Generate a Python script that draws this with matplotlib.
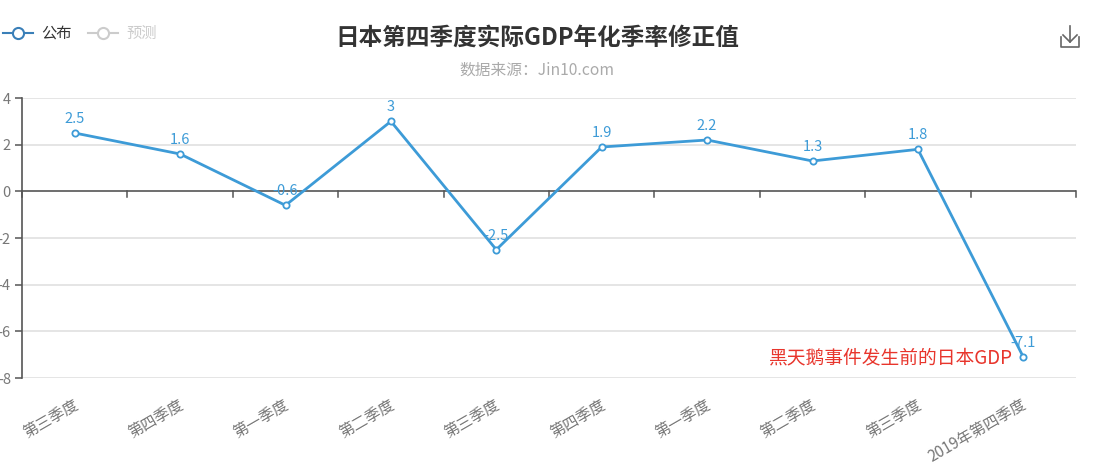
import matplotlib
matplotlib.use('Agg')
import matplotlib.pyplot as plt
import matplotlib.transforms as mtransforms

plt.rcParams['font.family'] = ['Noto Sans CJK SC', 'DejaVu Sans']

# data
quarters = ['第三季度', '第四季度', '第一季度', '第二季度', '第三季度',
            '第四季度', '第一季度', '第二季度', '第三季度', '2019年第四季度']
gdp = [2.5, 1.6, -0.6, 3, -2.5, 1.9, 2.2, 1.3, 1.8, -7.1]
yticks = [-8, -6, -4, -2, 0, 2, 4]

line_c = '#3d9bd7'
fig = plt.figure(figsize=(10.96, 4.66), dpi=100)
ax = fig.add_axes([22 / 1096, 1 - 378 / 466, 1054 / 1096, 280 / 466])

n = len(gdp)
x = list(range(n))
ax.set_xlim(-0.5, n - 0.5)
ax.set_ylim(-8, 4)

# grid
for v in yticks:
    if v != 0:
        ax.axhline(v, color='#e0e0e0', lw=1.2, zorder=0)
ax.axhline(0, color='#555555', lw=1.2, zorder=1)
# category boundary ticks on the zero line
for b in range(n + 1):
    ax.plot([b - 0.5, b - 0.5], [0, -0.25], color='#555555', lw=1.1, zorder=1, clip_on=False)

ax.plot(x, gdp, color=line_c, lw=2, marker='o', ms=4.5, mfc='white', mec=line_c, mew=1.3, zorder=3)
for xi, v in zip(x, gdp):
    ax.annotate(f'{v:g}', (xi, v), xytext=(0, 5), textcoords='offset points',
                ha='center', va='bottom', fontsize=10.5, color=line_c, zorder=4)

for s in ['top', 'right', 'bottom']:
    ax.spines[s].set_visible(False)
ax.spines['left'].set_color('#555555')
ax.spines['left'].set_linewidth(1.2)
ax.set_yticks(yticks)
ax.set_yticklabels([str(v) for v in yticks])
ax.tick_params(axis='y', colors='#555555', labelcolor='#777777', labelsize=10.5, length=5, width=1.1, pad=3)
ax.set_xticks([])

# x labels at the bottom, rotated
trans = mtransforms.blended_transform_factory(ax.transData, ax.transAxes)
for xi, q in zip(x, quarters):
    ax.text(xi + 0.02, -0.09, q, transform=trans, rotation=30, rotation_mode='anchor',
            ha='right', va='center', fontsize=11, color='#777777')

ax.text(n - 1 - 0.1, -7.15, '黑天鹅事件发生前的日本GDP', ha='right', va='center',
        fontsize=13.5, color='#e8352c')

# titles
fig.text(537 / 1096, 1 - 38 / 466, '日本第四季度实际GDP年化季率修正值', ha='center', va='center',
         fontsize=17, fontweight='bold', color='#333333')
fig.text(537 / 1096, 1 - 70 / 466, '数据来源：Jin10.com', ha='center', va='center',
         fontsize=11.3, color='#aaaaaa')

# legend
def legend_item(x0, color, label, tcolor):
    fig.add_artist(plt.Line2D([x0 / 1096, (x0 + 30) / 1096], [1 - 33 / 466] * 2, color=color, lw=1.5))
    fig.add_artist(plt.Line2D([(x0 + 15) / 1096], [1 - 33 / 466], marker='o', ms=8, mfc='white',
                              mec=color, mew=1.5))
    fig.text((x0 + 38) / 1096, 1 - 33 / 466, label, ha='left', va='center', fontsize=11, color=tcolor)

legend_item(3, '#3a7fb8', '公布', '#333333')
legend_item(88, '#cccccc', '预测', '#cccccc')

# download icon
ix, iy = 1070 / 1096, 1 - 38 / 466
w, h = 1 / 1096, 1 / 466
fig.add_artist(plt.Line2D([ix, ix], [iy + 12 * h, iy - 4 * h], color='#666666', lw=1.2))
fig.add_artist(plt.Line2D([ix - 7 * w, ix, ix + 7 * w], [iy + 3 * h, iy - 4 * h, iy + 3 * h], color='#666666', lw=1.2))
fig.add_artist(plt.Line2D([ix - 9 * w, ix - 9 * w, ix + 9 * w, ix + 9 * w],
                          [iy + 1 * h, iy - 9 * h, iy - 9 * h, iy + 1 * h], color='#666666', lw=1.2))

fig.savefig('out.png', dpi=100)
